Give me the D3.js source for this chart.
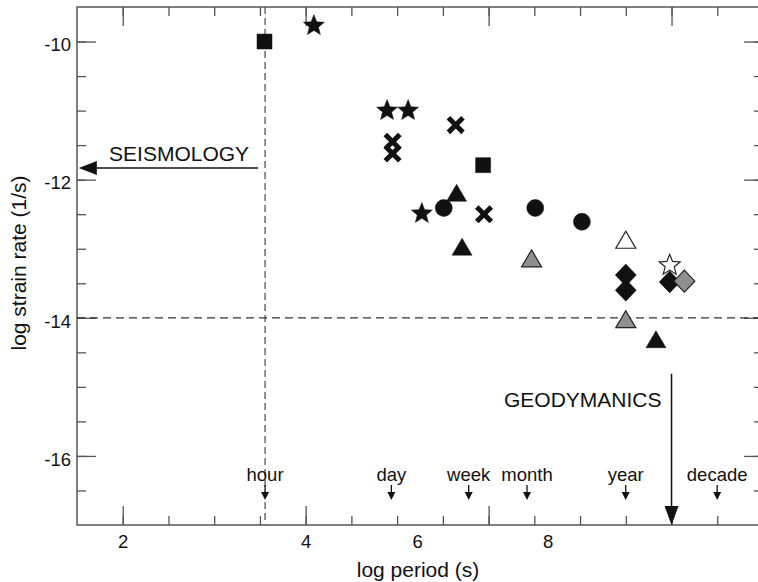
<!DOCTYPE html>
<html>
<head>
<meta charset="utf-8">
<script src="https://cdn.jsdelivr.net/npm/d3@7"></script>
<style>
  html, body { margin: 0; padding: 0; background: #fff; }
  svg { display: block; font-family: "Liberation Sans", Arial, sans-serif; }
  .axis path.domain { display: none; }
  .axis line { stroke: #555; stroke-width: 1.3; }
  .axis text { fill: #111; font-size: 18.5px; }
</style>
</head>
<body>
<svg id="svg" width="758" height="582"></svg>
<script>
(function () {
  // data points: log period (s), log strain rate (1/s), symbol, fill
  const ptX = [3.55, 4.09, 4.89, 5.12, 4.95, 4.95, 5.64, 5.94, 5.65, 5.27, 5.51, 5.95,
               5.71, 6.51, 7.02, 6.47, 7.50, 7.50, 7.50, 7.98, 7.98, 8.14, 7.50, 7.83];
  const ptY = [-10.0, -9.77, -11.0, -11.0, -11.45, -11.62, -11.21, -11.79, -12.19, -12.49, -12.41, -12.5,
               -12.97, -12.41, -12.61, -13.14, -12.87, -13.38, -13.6, -13.24, -13.48, -13.47, -14.02, -14.31];
  const ptShape = ['square', 'star', 'star', 'star', 'cross', 'cross', 'cross', 'square', 'triangle', 'star', 'circle', 'cross',
                   'triangle', 'circle', 'circle', 'triangle', 'triangle', 'diamond', 'diamond', 'star', 'diamond', 'diamond', 'triangle', 'triangle'];
  const ptFill = ['black', 'black', 'black', 'black', 'black', 'black', 'black', 'black', 'black', 'black', 'black', 'black',
                  'black', 'black', 'black', 'gray', 'open', 'black', 'black', 'open', 'black', 'gray', 'gray', 'black'];

  // time markers along the period axis (log10 of seconds)
  const timeNames = ['hour', 'day', 'week', 'month', 'year', 'decade'];
  const timeLogSec = [3.556, 4.937, 5.782, 6.42, 7.499, 8.499];

  // axis ticks and labels
  const xMinorTicks = d3.range(2, 9, 0.5);
  const xMajorTicks = [2, 4, 6, 8];
  const xTickLabels = ['2', '4', '6', '8'];
  const xTickLabelAt = [2, 4, 5.22, 6.645]; // where the labels sit in the original figure
  const yMinorTicks = d3.range(-16.5, -9.5, 0.5);
  const yMajorTicks = [-16, -14, -12, -10];

  // reference lines and annotations
  const hourLine = 3.556;
  const rateLine = -14;
  const seismo = { label: 'SEISMOLOGY', x1: 3.48, x2: 1.52, y: -11.83 };
  const geody = { label: 'GEODYMANICS', x: 8.0, y1: -14.81, y2: -17 };

  const svg = d3.select('#svg');
  const left = 77, right = 763, top = 7, bottom = 525;

  const x = d3.scaleLinear().domain([1.5, 9]).range([left, right]);
  const y = d3.scaleLinear().domain([-17, -9.5]).range([bottom, top]);

  const MAJ = 19, MIN = 9;

  // ticks, all pointing inward
  svg.append('g').attr('class', 'axis').attr('transform', `translate(0,${bottom})`)
    .call(d3.axisBottom(x).tickValues(xMinorTicks).tickSize(-MIN).tickFormat(''));
  svg.append('g').attr('class', 'axis').attr('transform', `translate(0,${bottom})`)
    .call(d3.axisBottom(x).tickValues(xMajorTicks).tickSize(-MAJ).tickFormat(''));
  svg.append('g').attr('class', 'axis').attr('transform', `translate(0,${top})`)
    .call(d3.axisTop(x).tickValues(xMinorTicks).tickSize(-MIN).tickFormat(''));
  svg.append('g').attr('class', 'axis').attr('transform', `translate(0,${top})`)
    .call(d3.axisTop(x).tickValues(xMajorTicks).tickSize(-MAJ).tickFormat(''));
  // bottom labels, placed as in the source figure
  svg.append('g').attr('class', 'axis').attr('transform', `translate(0,${bottom})`)
    .call(d3.axisBottom(x).tickValues(xTickLabelAt).tickSize(0).tickPadding(10)
      .tickFormat((d, i) => xTickLabels[i]))
    .selectAll('line').remove();

  svg.append('g').attr('class', 'axis').attr('transform', `translate(${left},0)`)
    .call(d3.axisLeft(y).tickValues(yMinorTicks).tickSize(-MIN).tickFormat(''));
  svg.append('g').attr('class', 'axis yl').attr('transform', `translate(${left},0)`)
    .call(d3.axisLeft(y).tickValues(yMajorTicks).tickSize(-MAJ).tickPadding(6).tickFormat(d => String(d)));
  svg.selectAll('.yl text').attr('dy', '0.5em');
  svg.append('g').attr('class', 'axis').attr('transform', `translate(${right},0)`)
    .call(d3.axisRight(y).tickValues(yMinorTicks).tickSize(-MIN).tickFormat(''));
  svg.append('g').attr('class', 'axis').attr('transform', `translate(${right},0)`)
    .call(d3.axisRight(y).tickValues(yMajorTicks).tickSize(-MAJ).tickFormat(''));

  // frame
  svg.append('rect')
    .attr('x', left).attr('y', top)
    .attr('width', right - left).attr('height', bottom - top)
    .attr('fill', 'none').attr('stroke', '#555').attr('stroke-width', 1.5);

  // dashed reference lines
  svg.append('line')
    .attr('x1', x(hourLine)).attr('x2', x(hourLine))
    .attr('y1', top).attr('y2', bottom)
    .attr('stroke', '#555').attr('stroke-width', 1.3).attr('stroke-dasharray', '7,4');
  svg.append('line')
    .attr('x1', left).attr('x2', right)
    .attr('y1', y(rateLine)).attr('y2', y(rateLine))
    .attr('stroke', '#333').attr('stroke-width', 1.2).attr('stroke-dasharray', '8,5');

  // time markers
  const tm = svg.append('g').selectAll('g').data(timeNames).join('g')
    .attr('transform', (d, i) => `translate(${x(timeLogSec[i])},${bottom})`);
  tm.append('text')
    .attr('y', -44).attr('text-anchor', 'middle')
    .attr('font-size', 18.5).attr('fill', '#111')
    .text(d => d);
  tm.append('line')
    .attr('y1', -40).attr('y2', -31)
    .attr('stroke', '#111').attr('stroke-width', 1.3);
  tm.append('path')
    .attr('d', 'M-4,-33L4,-33L0,-25Z')
    .attr('fill', '#111');

  // SEISMOLOGY arrow
  const sy = y(seismo.y);
  svg.append('line')
    .attr('x1', x(seismo.x1)).attr('x2', x(seismo.x2) + 14)
    .attr('y1', sy).attr('y2', sy)
    .attr('stroke', '#111').attr('stroke-width', 1.5);
  svg.append('path')
    .attr('d', `M${x(seismo.x2)},${sy}L${x(seismo.x2) + 18},${sy - 7}L${x(seismo.x2) + 18},${sy + 7}Z`)
    .attr('fill', '#111');
  svg.append('text')
    .attr('x', x(seismo.x1) - 9).attr('y', sy - 7)
    .attr('text-anchor', 'end').attr('font-size', 21).attr('fill', '#111')
    .text(seismo.label);

  // GEODYMANICS arrow
  const gx = x(geody.x);
  svg.append('line')
    .attr('x1', gx).attr('x2', gx)
    .attr('y1', y(geody.y1)).attr('y2', y(geody.y2) - 14)
    .attr('stroke', '#111').attr('stroke-width', 1.5);
  svg.append('path')
    .attr('d', `M${gx},${y(geody.y2)}L${gx - 7},${y(geody.y2) - 19}L${gx + 7},${y(geody.y2) - 19}Z`)
    .attr('fill', '#111');
  svg.append('text')
    .attr('x', gx - 10).attr('y', y(geody.y1) + 33)
    .attr('text-anchor', 'end').attr('font-size', 21).attr('fill', '#111')
    .text(geody.label);

  // symbol paths
  function starPath(R, r) {
    let p = '';
    for (let k = 0; k < 10; k++) {
      const rad = k % 2 === 0 ? R : r;
      const a = -Math.PI / 2 + k * Math.PI / 5;
      p += (k === 0 ? 'M' : 'L') + (rad * Math.cos(a)).toFixed(2) + ',' + (rad * Math.sin(a)).toFixed(2);
    }
    return p + 'Z';
  }
  const shapes = {
    square: 'M-7.5,-7.5H7.5V7.5H-7.5Z',
    star: starPath(11, 4.8),
    circle: 'M8.5,0A8.5,8.5 0 1,1 -8.5,0A8.5,8.5 0 1,1 8.5,0Z',
    triangle: 'M0,-8.5L10,8.5L-10,8.5Z',
    diamond: 'M0,-11L10.5,0L0,11L-10.5,0Z'
  };
  const fills = { black: '#111', gray: '#8f8f8f', open: '#fff' };

  const g = svg.append('g');
  d3.range(ptX.length).forEach(i => {
    const node = g.append('g').attr('transform', `translate(${x(ptX[i])},${y(ptY[i])})`);
    if (ptShape[i] === 'cross') {
      node.append('path')
        .attr('d', 'M-5.5,-5.5L5.5,5.5M5.5,-5.5L-5.5,5.5')
        .attr('stroke', '#111').attr('stroke-width', 5).attr('stroke-linecap', 'square');
    } else {
      node.append('path')
        .attr('d', shapes[ptShape[i]])
        .attr('fill', fills[ptFill[i]])
        .attr('stroke', ptFill[i] === 'black' ? '#111' : '#222')
        .attr('stroke-width', ptFill[i] === 'black' ? 0.5 : 1.2)
        .attr('stroke-linejoin', 'miter');
    }
  });

  // axis titles
  svg.append('text')
    .attr('transform', `translate(26,263) rotate(-90)`)
    .attr('text-anchor', 'middle').attr('font-size', 21).attr('fill', '#111')
    .text('log strain rate (1/s)');
  svg.append('text')
    .attr('x', 418).attr('y', 577)
    .attr('text-anchor', 'middle').attr('font-size', 21).attr('fill', '#111')
    .text('log period (s)');
})();
</script>
</body>
</html>
